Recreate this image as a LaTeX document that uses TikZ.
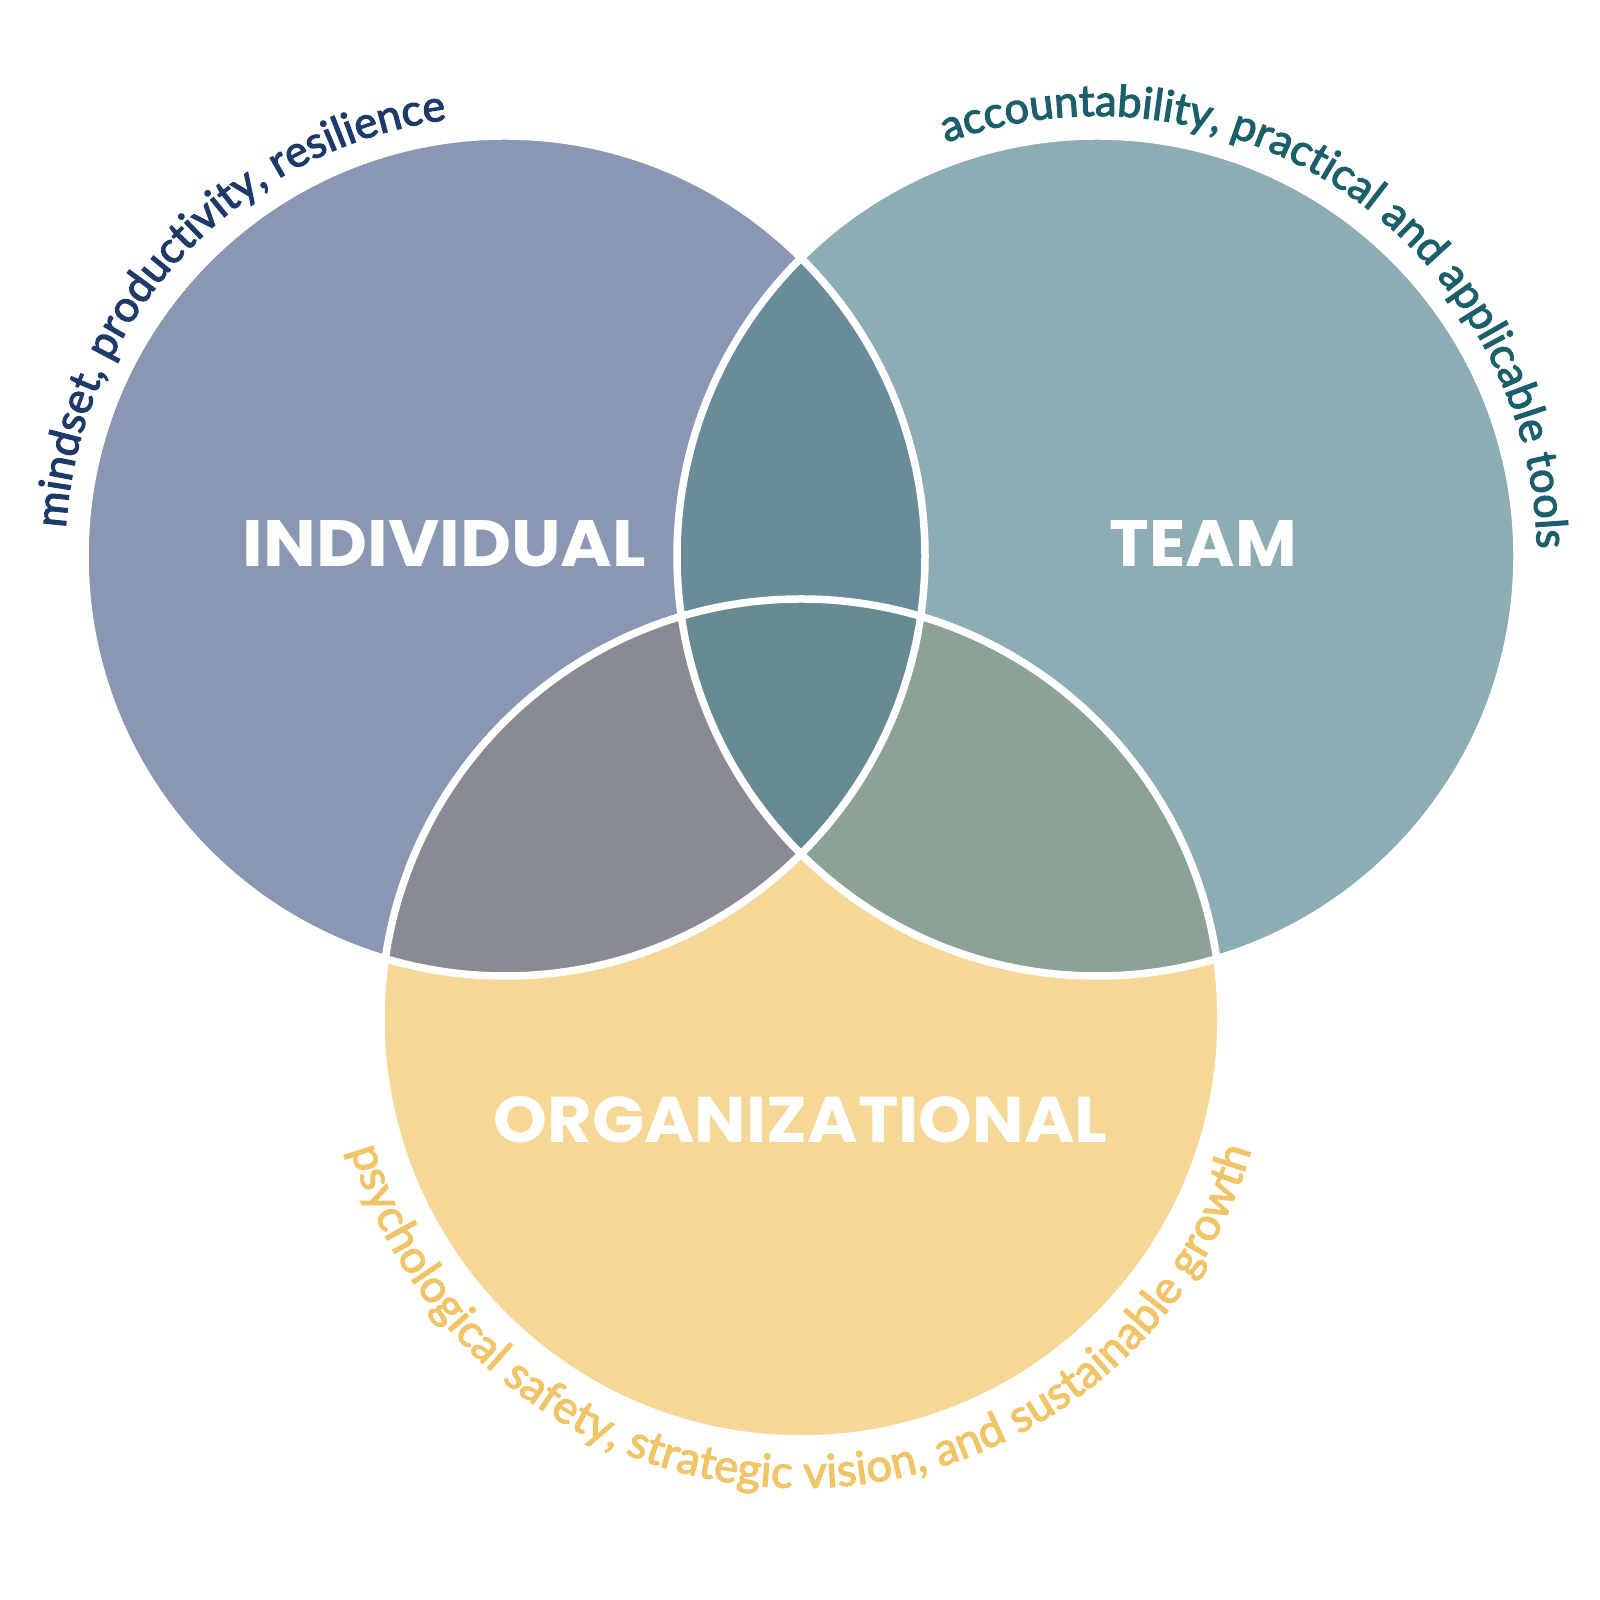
\documentclass[tikz,border=0pt]{standalone}
\usepackage{fontspec}
\usepackage{graphicx}
\usetikzlibrary{decorations.text}
\newfontfamily\arcfont{Lato}[FakeBold=2.6]
\newfontfamily\titlefont{Poppins}
\definecolor{indc}{HTML}{8A97B2}
\definecolor{teamc}{HTML}{8DACB3}
\definecolor{orgc}{HTML}{F7D797}
\definecolor{itc}{HTML}{6A8C9A}
\definecolor{ioc}{HTML}{888B93}
\definecolor{toc}{HTML}{8BA295}
\definecolor{allc}{HTML}{678992}
\definecolor{indtext}{HTML}{1E3A6B}
\definecolor{teamtext}{HTML}{1B5F6B}
\definecolor{orgtext}{HTML}{F2C468}
\tikzset{
  title/.style={text=white, font=\titlefont\bfseries, inner sep=0pt, anchor=base},
  ring/.style={draw=white, line width=7.5pt},
}
\newcommand{\arcsize}{\fontsize{43.5}{44}\selectfont}
\newcommand{\orgsize}{\fontsize{45.5}{46}\selectfont}
\begin{document}
\begin{tikzpicture}[x=1pt,y=1pt]
\useasboundingbox (0,0) rectangle (1600,1600);
\fill[white] (0,0) rectangle (1600,1600);
\coordinate (I) at (505,1044);
\coordinate (T) at (1097,1044);
\coordinate (O) at (801,581);
% base fills
\fill[indc] (I) circle[radius=420pt];
\fill[teamc] (T) circle[radius=420pt];
\fill[orgc] (O) circle[radius=420pt];
% pairwise overlaps
\begin{scope}
  \clip (I) circle[radius=420pt];
  \fill[itc] (T) circle[radius=420pt];
  \fill[ioc] (O) circle[radius=420pt];
\end{scope}
\begin{scope}
  \clip (T) circle[radius=420pt];
  \fill[toc] (O) circle[radius=420pt];
  \begin{scope}
    \clip (I) circle[radius=420pt];
    \fill[allc] (O) circle[radius=420pt];
  \end{scope}
\end{scope}
% outlines
\draw[ring] (I) circle[radius=420pt];
\draw[ring] (T) circle[radius=420pt];
\draw[ring] (O) circle[radius=420pt];
% titles
\node[title] (indl) at (444.5,1033) {\resizebox{403pt}{46pt}{INDIVIDUAL}};
\node[title] (teaml) at (1203.5,1033) {\resizebox{187pt}{46pt}{TEAM}};
\node[title] (orgl) at (800.5,457) {\resizebox{613pt}{46pt}{ORGANIZATIONAL}};
% arc texts
\path[decorate, decoration={text along path, text align=center,
  text={|\arcfont\arcsize\color{indtext}|mindset, productivity, resilience}}]
  ([shift={(237:440pt)}]I) arc[start angle=237, end angle=37, radius=440pt];
\path[decorate, decoration={text along path, text align=center,
  text={|\arcfont\arcsize\color{teamtext}|accountability, practical and applicable tools}}]
  ([shift={(155.5:440pt)}]T) arc[start angle=155.5, end angle=-44.5, radius=440pt];
\path[decorate, decoration={text along path, text align=center,
  text={|\arcfont\orgsize\color{orgtext}|psychological safety, strategic vision, and sustainable growth}}]
  ([shift={(170:469pt)}]O) arc[start angle=170, end angle=370, radius=469pt];
\end{tikzpicture}
\end{document}
